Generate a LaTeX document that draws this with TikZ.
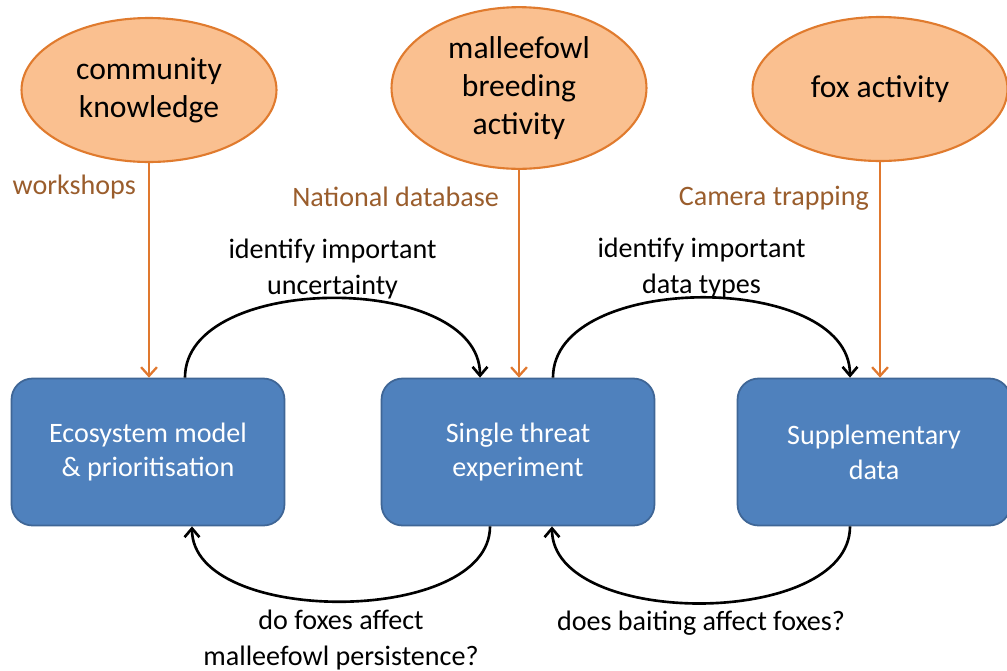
\documentclass[tikz,border=0pt]{standalone}
\usepackage{fontspec}
\setmainfont{Carlito}
\usetikzlibrary{shapes.geometric,arrows.meta}

\definecolor{boxblue}{HTML}{4F81BD}
\definecolor{boxedge}{HTML}{3F6696}
\definecolor{peach}{HTML}{FAC090}
\definecolor{peachedge}{HTML}{E07B2E}
\definecolor{feedline}{HTML}{E0782E}
\definecolor{methodtext}{HTML}{9A5D2C}

\tikzset{
  source/.style={ellipse, draw=peachedge, fill=peach, line width=1.2pt,
    minimum width=5.1cm, minimum height=2.88cm, align=center,
    font=\fontsize{18}{21.5}\selectfont},
  stage/.style={rectangle, rounded corners=0.42cm, draw=boxedge, fill=boxblue,
    line width=1pt, minimum width=5.46cm, minimum height=2.94cm, align=center,
    text=white, font=\fontsize{16}{19.8}\selectfont},
  feed/.style={draw=feedline, line width=1.3pt,
    -{Straight Barb[length=5pt,width=9pt]}},
  loop/.style={draw=black, line width=1.5pt,
    -{Straight Barb[length=5pt,width=8.5pt]}},
  method/.style={text=methodtext, inner sep=0pt,
    font=\fontsize{16}{20}\selectfont},
  question/.style={align=center, inner sep=0pt,
    font=\fontsize{16}{20.5}\selectfont}
}

\begin{document}
\begin{tikzpicture}[x=0.02cm, y=-0.02cm]
  \useasboundingbox (0,0) rectangle (1007,670);

  % what is measured
  \node[source] (community) at (149,90) {community\\knowledge};
  \node[source] (breeding) at (519,88) {malleefowl\\breeding\\activity};
  \node[source] (fox) at (880,89) {fox activity};

  % the three stages
  \node[stage] (model) at (148,452) {Ecosystem model\\\& prioritisation};
  \node[stage] (threat) at (518,452) {Single threat\\experiment};
  \node[stage] (supp) at (874,452) {Supplementary\\data};

  % data feeding in from above
  \draw[feed] (community.south) -- (community.south |- model.north)
    node[method, pos=0.11, left=0.24cm] (workshops) {workshops};
  \draw[feed] (breeding.south) -- (breeding.south |- threat.north)
    node[method, pos=0.13, left=0.38cm] (database) {National database};
  \draw[feed] (fox.south) -- (fox.south |- supp.north)
    node[method, pos=0.17, left=0.2cm] (camera) {Camera trapping};

  % forward loops
  \draw[loop] ([xshift=0.74cm]model.north) to[out=90, in=90, looseness=0.92]
    node[question, above=-1pt] (uncert) {identify important\\uncertainty}
    ([xshift=-0.76cm]threat.north);
  \draw[loop] ([xshift=0.7cm]threat.north) to[out=90, in=90, looseness=0.92]
    node[question, above=-1pt] (types) {identify important\\data types}
    ([xshift=-0.48cm]supp.north);

  % feedback loops
  \draw[loop] ([xshift=-0.56cm]threat.south) to[out=-90, in=-90, looseness=0.86]
    node[question, below=4pt] (persist) {do foxes affect\\malleefowl persistence?}
    ([xshift=0.88cm]model.south);
  \draw[loop] ([xshift=-0.48cm]supp.south) to[out=-90, in=-90, looseness=0.88]
    node[question, below=4pt] (baiting) {does baiting affect foxes?}
    ([xshift=0.68cm]threat.south);

\end{tikzpicture}
\end{document}
